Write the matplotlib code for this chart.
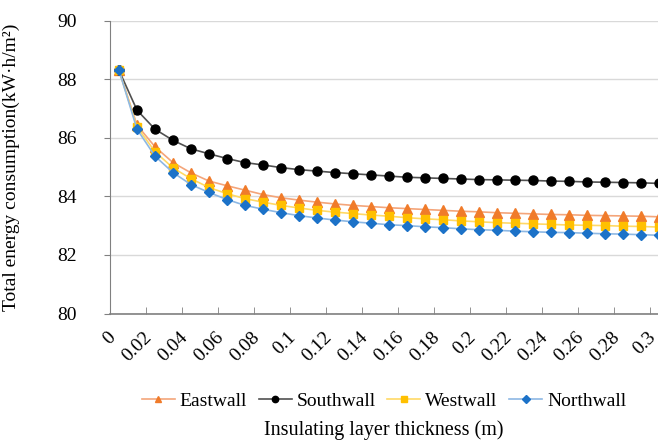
import numpy as np
import matplotlib.pyplot as plt
from matplotlib.ticker import FixedLocator

plt.rcParams['font.family'] = ['Liberation Serif', 'DejaVu Serif']

# thickness categories 0 .. 0.30 m, step 0.01
thickness = ['0', '0.01', '0.02', '0.03', '0.04', '0.05', '0.06', '0.07', '0.08', '0.09',
             '0.1', '0.11', '0.12', '0.13', '0.14', '0.15', '0.16', '0.17', '0.18', '0.19',
             '0.2', '0.21', '0.22', '0.23', '0.24', '0.25', '0.26', '0.27', '0.28', '0.29', '0.3']

eastwall = [88.3, 86.43, 85.69, 85.15, 84.80, 84.52, 84.36, 84.21, 84.06, 83.95, 83.87,
            83.80, 83.74, 83.69, 83.65, 83.61, 83.58, 83.55, 83.52, 83.49, 83.47,
            83.44, 83.42, 83.40, 83.38, 83.37, 83.35, 83.34, 83.33, 83.32, 83.30]
southwall = [88.3, 86.94, 86.29, 85.91, 85.62, 85.45, 85.29, 85.15, 85.07, 84.98, 84.91,
             84.86, 84.81, 84.77, 84.73, 84.69, 84.65, 84.63, 84.61, 84.59, 84.57,
             84.56, 84.55, 84.54, 84.52, 84.51, 84.49, 84.48, 84.47, 84.46, 84.44]
westwall = [88.3, 86.37, 85.52, 84.97, 84.60, 84.30, 84.09, 83.92, 83.80, 83.69, 83.60,
            83.52, 83.46, 83.41, 83.36, 83.32, 83.27, 83.23, 83.20, 83.16, 83.13,
            83.10, 83.08, 83.06, 83.04, 83.02, 83.01, 83.00, 82.98, 82.97, 82.95]
northwall = [88.3, 86.29, 85.37, 84.81, 84.40, 84.13, 83.89, 83.69, 83.56, 83.44, 83.34,
             83.26, 83.19, 83.13, 83.08, 83.03, 83.00, 82.96, 82.93, 82.89, 82.86,
             82.84, 82.81, 82.79, 82.77, 82.76, 82.74, 82.72, 82.71, 82.69, 82.67]

W, H = 658, 441
fig = plt.figure(figsize=(W / 100, H / 100), dpi=100)
# plot area runs past the right edge of the picture, like the cropped original
ax = fig.add_axes([110 / W, (H - 313.5) / H, 558 / W, 293 / H])

x = np.arange(len(thickness))
series = [
    ('Eastwall', eastwall, '#F4A57A', '#F07B2A', '^', 6.5),
    ('Southwall', southwall, '#505050', '#000000', 'o', 6.5),
    ('Westwall', westwall, '#FFD966', '#FFC000', 's', 6),
    ('Northwall', northwall, '#8DB8E4', '#1C72C8', 'D', 5.5),
]
for name, vals, lc, mc, mk, ms in series:
    ax.plot(x, vals, color=lc, lw=1.2, marker=mk, ms=ms,
            markerfacecolor=mc, markeredgecolor=mc, label=name)

ax.set_xlim(-0.5, len(thickness) - 0.5)
ax.set_ylim(80, 90)
ax.set_yticks(np.arange(80, 91, 2))
ax.grid(axis='y', color='#D9D9D9', lw=1)
ax.set_axisbelow(True)

ax.set_xticks(x[::2])
ax.set_xticklabels(thickness[::2], rotation=45, ha='right', fontsize=14)
ax.tick_params(axis='x', which='major', length=0, pad=11)
ax.xaxis.set_minor_locator(FixedLocator(np.arange(1.5, len(thickness), 2)))
ax.tick_params(axis='x', which='minor', direction='in', length=5, color='#808080')
ax.tick_params(axis='y', length=4, color='#808080', labelsize=14, pad=20)

for s in ['top', 'right']:
    ax.spines[s].set_visible(False)
ax.spines['left'].set_color('#808080')
ax.spines['bottom'].set_color('#808080')
ax.spines['bottom'].set_linewidth(1.2)

ax.set_ylabel('Total energy consumption(kW·h/m²)', fontsize=14)
ax.yaxis.set_label_coords(-0.162, 0.5)
fig.text(384 / W, 1 - 430 / H, 'Insulating layer thickness (m)', ha='center', va='center', fontsize=14.5)
fig.legend(loc='center', bbox_to_anchor=(384 / W, 1 - 401 / H), ncol=4, frameon=False,
           fontsize=14, handlelength=1.7, handletextpad=0.25, columnspacing=0.6,
           markerscale=0.7)

fig.savefig('out.png', dpi=100)
